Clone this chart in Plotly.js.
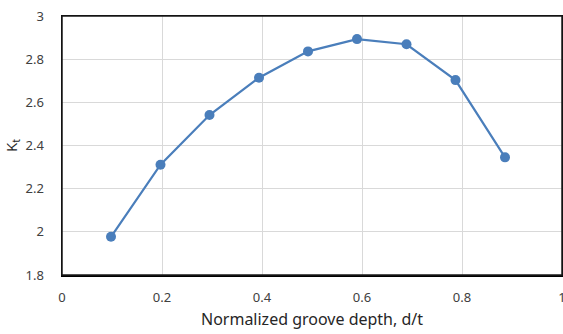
<!DOCTYPE html>
<html>
<head>
<meta charset="utf-8">
<script src="https://cdn.plot.ly/plotly-3.0.1.min.js"></script>
<style>html,body{margin:0;padding:0;background:#fff;}#chart{width:563px;height:334px;}</style>
</head>
<body>
<div id="chart"></div>
<script>
const depthRatio = [0.098, 0.197, 0.295, 0.394, 0.492, 0.590, 0.689, 0.787, 0.886];
const ktValues = [1.977, 2.311, 2.541, 2.714, 2.836, 2.893, 2.869, 2.703, 2.345];
const xTickVals = [0, 0.2, 0.4, 0.6, 0.8, 1];
const xTickText = ['0', '0.2', '0.4', '0.6', '0.8', '1'];
const yTickVals = [1.8, 2, 2.2, 2.4, 2.6, 2.8, 3];
const yTickText = ['1.8', '2', '2.2', '2.4', '2.6', '2.8', '3'];
const xTitle = 'Normalized groove depth, d/t';
const yTitle = 'K<sub>t</sub>';

const trace = {
  x: depthRatio, y: ktValues, type: 'scatter', mode: 'lines+markers',
  line: {color: '#4a7ebb', width: 2.2},
  marker: {color: '#4a7ebb', size: 10},
  showlegend: false, hoverinfo: 'skip'
};
const font = {family: '"Noto Sans", "Open Sans", sans-serif', size: 13, color: '#404040'};
const layout = {
  width: 563, height: 334,
  margin: {l: 62, r: 1, t: 16, b: 59},
  paper_bgcolor: '#fff', plot_bgcolor: '#fff',
  font: font,
  xaxis: {
    range: [0, 1], tickvals: xTickVals, ticktext: xTickText,
    showgrid: true, gridcolor: '#d9d9d9', gridwidth: 1,
    showline: true, linecolor: '#000', linewidth: 1.5, mirror: true,
    zeroline: false, ticks: '', ticklabelstandoff: 10,
    ticklabeloverflow: 'allow',
    title: {text: xTitle, font: {size: 16, color: '#262626'}, standoff: 8},
    automargin: false
  },
  yaxis: {
    range: [1.8, 3], tickvals: yTickVals, ticktext: yTickText,
    showgrid: true, gridcolor: '#d9d9d9', gridwidth: 1,
    showline: true, linecolor: '#000', linewidth: 1.5, mirror: true,
    zeroline: false, ticks: '', ticklabelstandoff: 14,
    ticklabeloverflow: 'allow',
    title: {text: yTitle, font: {size: 15, color: '#262626'}, standoff: 4},
    automargin: false
  },
  shapes: [{
    type: 'rect', xref: 'paper', yref: 'paper', x0: 0, x1: 1, y0: 0, y1: 1,
    line: {color: '#1a1a1a', width: 1.5}, fillcolor: 'rgba(0,0,0,0)', layer: 'above'
  }]
};
Plotly.newPlot('chart', [trace], layout, {staticPlot: true, displayModeBar: false});
</script>
</body>
</html>
